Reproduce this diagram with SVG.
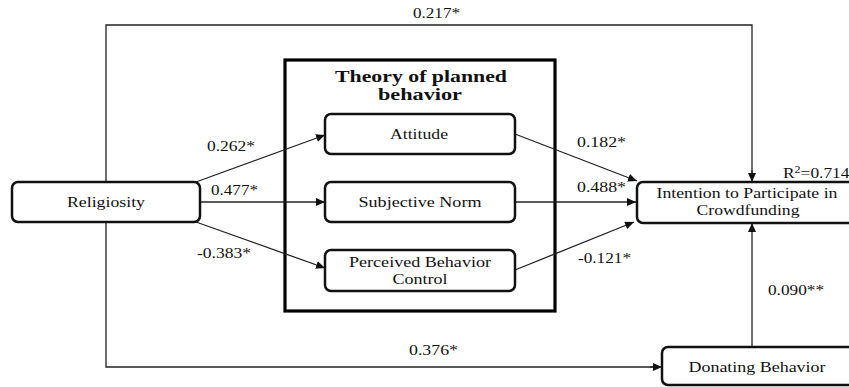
<svg xmlns="http://www.w3.org/2000/svg" width="849" height="387" viewBox="0 0 849 387">
<defs>
<marker id="arr" markerUnits="userSpaceOnUse" markerWidth="10" markerHeight="8" refX="9" refY="4" orient="auto">
<path d="M0,0 L9,4 L0,8 Z" fill="#111"/>
</marker>
<style>
.node{fill:#fff;stroke:#111;stroke-width:2.5}
.frame{fill:none;stroke:#000;stroke-width:3.2}
.edge{fill:none;stroke:#222;stroke-width:1.3;marker-end:url(#arr)}
.line{fill:none;stroke:#222;stroke-width:1.3}
text{font-family:"Liberation Serif","Times New Roman",serif;font-size:14.5px;fill:#111}
.c{text-anchor:middle}
.title{font-weight:bold;font-size:16px}
</style>
</defs>
<rect width="849" height="387" fill="#fff"/>

<g id="tpb-frame">
<rect class="frame" x="285" y="60" width="270" height="251"/>
<text class="c title" x="421" y="82" textLength="172" lengthAdjust="spacingAndGlyphs">Theory of planned</text>
<text class="c title" x="420" y="100" textLength="84" lengthAdjust="spacingAndGlyphs">behavior</text>
</g>

<g id="connectors">
<path class="line" d="M106,182 V25 H752 V176"/>
<path class="edge" d="M752,170 V182"/>
<path class="line" d="M106,222 V367 H656"/>
<path class="edge" d="M650,367 H662"/>
<path class="edge" d="M196,182 L325,135"/>
<path class="edge" d="M200,202 L325,202"/>
<path class="edge" d="M196,222 L325,268"/>
<path class="edge" d="M515,134 L637,181"/>
<path class="edge" d="M515,202 L636,202"/>
<path class="edge" d="M515,270 L634,222"/>
<path class="edge" d="M752,347 V223"/>
<text x="413" y="18" textLength="47" lengthAdjust="spacingAndGlyphs">0.217*</text>
<text x="207" y="151" textLength="48" lengthAdjust="spacingAndGlyphs">0.262*</text>
<text x="211" y="195" textLength="47" lengthAdjust="spacingAndGlyphs">0.477*</text>
<text x="197" y="258" textLength="54" lengthAdjust="spacingAndGlyphs">-0.383*</text>
<text x="577" y="147" textLength="49" lengthAdjust="spacingAndGlyphs">0.182*</text>
<text x="577" y="192" textLength="49" lengthAdjust="spacingAndGlyphs">0.488*</text>
<text x="578" y="263" textLength="53" lengthAdjust="spacingAndGlyphs">-0.121*</text>
<text x="768" y="295" textLength="56" lengthAdjust="spacingAndGlyphs">0.090**</text>
<text x="409" y="355" textLength="49" lengthAdjust="spacingAndGlyphs">0.376*</text>
</g>

<g id="religiosity">
<rect class="node" x="12" y="182" width="188" height="40" rx="6"/>
<text class="c" x="106" y="207" textLength="78" lengthAdjust="spacingAndGlyphs">Religiosity</text>
</g>

<g id="attitude">
<rect class="node" x="325" y="114" width="190" height="40" rx="6"/>
<text class="c" x="419" y="139" textLength="58" lengthAdjust="spacingAndGlyphs">Attitude</text>
</g>

<g id="subjective-norm">
<rect class="node" x="325" y="182" width="190" height="40" rx="6"/>
<text class="c" x="420" y="207" textLength="123" lengthAdjust="spacingAndGlyphs">Subjective Norm</text>
</g>

<g id="pbc">
<rect class="node" x="325" y="250" width="190" height="41" rx="6"/>
<text class="c" x="420" y="267" textLength="142" lengthAdjust="spacingAndGlyphs">Perceived Behavior</text>
<text class="c" x="420" y="284" textLength="55" lengthAdjust="spacingAndGlyphs">Control</text>
</g>

<g id="intention">
<rect class="node" x="637" y="182" width="222" height="41" rx="6"/>
<text class="c" x="747" y="198" textLength="181" lengthAdjust="spacingAndGlyphs">Intention to Participate in</text>
<text class="c" x="748" y="215" textLength="103" lengthAdjust="spacingAndGlyphs">Crowdfunding</text>
<text transform="translate(783,178) scale(1.2,1)">R<tspan font-size="10" dy="-5">2</tspan><tspan dy="5">=0.714</tspan></text>
</g>

<g id="donating">
<rect class="node" x="662" y="347" width="194" height="38" rx="6"/>
<text class="c" x="757" y="372" textLength="137" lengthAdjust="spacingAndGlyphs">Donating Behavior</text>
</g>
</svg>
